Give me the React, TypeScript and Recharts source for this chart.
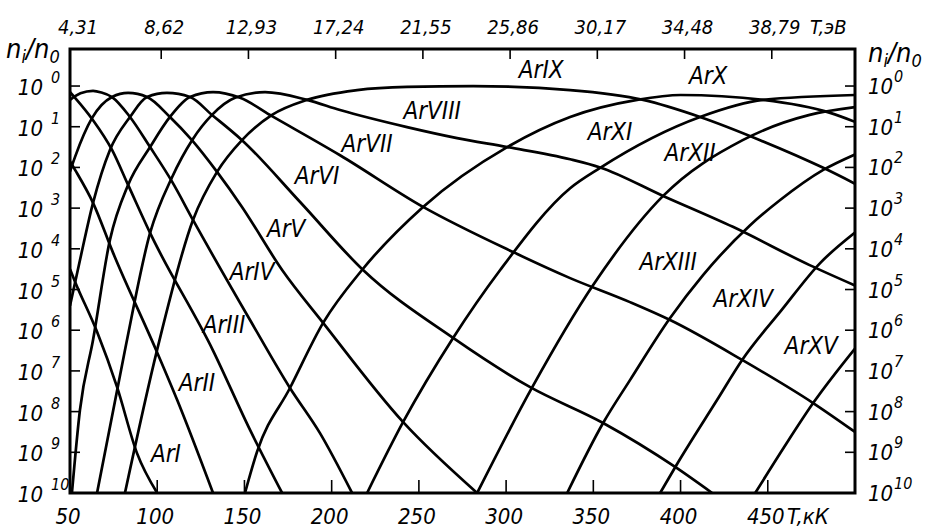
import React from 'react';
import { LineChart, Line, XAxis, YAxis, ReferenceArea, ReferenceDot } from 'recharts';

// log10(n_i/n_0) against T, kK
const AR_I = [[50, -4.5], [53, -4.82], [65.5, -6.04], [77, -7.4], [88.4, -9.02], [100, -10]];
const AR_II = [[50, -1.85], [52.9, -2.06], [63.2, -2.87], [74.7, -4.1], [99.9, -6.54], [111.4, -7.71], [132, -10]];
const AR_III = [[50, -0.15], [52.9, -0.29], [63.2, -0.84], [74.1, -1.57], [83.3, -2.43], [95.9, -3.61], [132, -6.5], [153.2, -8.45], [171.6, -10]];
const AR_IV = [[50, -0.34], [56, -0.18], [63.2, -0.12], [68, -0.16], [74.1, -0.27], [84.4, -0.76], [95.9, -1.5], [108.5, -2.35], [120.5, -3.29], [153.2, -5.75], [176.1, -7.42], [193.3, -8.53], [211.7, -10]];
const AR_V = [[50, -2.1], [52.9, -1.74], [62.6, -0.79], [74.1, -0.27], [83.3, -0.17], [94.2, -0.27], [107.3, -0.76], [119.9, -1.33], [134.3, -2.11], [148.6, -2.97], [171.6, -4.52], [195.1, -5.82], [241, -8.26], [283.4, -10]];
const AR_VI = [[50, -5.4], [55.7, -4.28], [63.2, -2.87], [72.9, -1.57], [84.4, -0.76], [94.2, -0.27], [105.6, -0.17], [118.8, -0.27], [131.4, -0.71], [148.6, -1.33], [181.9, -2.85], [218, -4.52], [269.6, -6.19], [313.8, -7.4], [355.6, -8.28], [396.9, -9.36], [418.1, -10]];
const AR_VII = [[51.1, -10], [55.7, -7.96], [63.2, -6.24], [72.9, -3.78], [83.3, -2.43], [95.9, -1.5], [107.3, -0.76], [118.8, -0.27], [132, -0.15], [147.5, -0.29], [165.8, -0.74], [204.8, -1.7], [252.4, -2.97], [304, -4.08], [336.7, -4.72], [371, -5.31], [394, -5.75], [435.3, -6.73], [476, -7.79], [500, -8.5]];
const AR_VIII = [[65.5, -10], [81.5, -6.49], [95.9, -3.61], [108.5, -2.24], [120, -1.33], [131.4, -0.71], [144.6, -0.29], [161.8, -0.15], [185.9, -0.34], [204.8, -0.59], [243.2, -1.01], [271.9, -1.28], [300.6, -1.5], [336.7, -1.8], [353.9, -2.0], [390, -2.7], [430, -3.46], [474, -4.4], [500, -4.9]];
const AR_IX = [[81.5, -10], [99.9, -6.49], [120.5, -3.29], [134.3, -2.11], [148.6, -1.33], [165.8, -0.71], [185.9, -0.34], [214.6, -0.1], [243.2, -0.02], [281.1, 0], [336.7, -0.1], [378.6, -0.34], [411.2, -0.76], [445.6, -1.33], [481.8, -2.01], [500, -2.4]];
const AR_X = [[150.3, -10], [157.2, -8.99], [176.1, -7.42], [195.1, -5.82], [217.4, -4.52], [252.4, -2.97], [300.6, -1.5], [336.7, -0.76], [375.1, -0.34], [400, -0.22], [447.4, -0.34], [485.8, -0.66], [500, -0.88]];
const AR_XI = [[220.3, -10], [240.9, -8.26], [269.6, -6.19], [296.6, -4.52], [336.7, -2.51], [353.9, -2.01], [411.2, -0.76], [447.4, -0.34], [500, -0.22]];
const AR_XII = [[283.4, -10], [315, -7.4], [349.9, -4.89], [390, -2.7], [435.6, -1.33], [474, -0.71], [500, -0.52]];
const AR_XIII = [[335, -10], [355.6, -8.28], [371.1, -7.22], [394, -5.7], [413, -4.64], [439.9, -3.42], [457.1, -2.8], [481.8, -2.06], [500, -1.68]];
const AR_XIV = [[388.3, -10], [397, -9.36], [421, -7.71], [435.3, -6.73], [458, -5.5], [480, -4.35], [500, -3.6]];
const AR_XV = [[442.8, -10], [459.4, -8.87], [476, -7.79], [500, -6.45]];

const ION_NAMES = ['ArI', 'ArII', 'ArIII', 'ArIV', 'ArV', 'ArVI', 'ArVII', 'ArVIII', 'ArIX', 'ArX', 'ArXI', 'ArXII', 'ArXIII', 'ArXIV', 'ArXV'];
const ION_CURVES = [AR_I, AR_II, AR_III, AR_IV, AR_V, AR_VI, AR_VII, AR_VIII, AR_IX, AR_X, AR_XI, AR_XII, AR_XIII, AR_XIV, AR_XV];
// where each name is written, [T, log10]
const LABEL_T = [105, 122.8, 138.3, 154.4, 173.9, 191.6, 220.3, 257.6, 320.1, 415.8, 359.6, 405.5, 392.9, 435.9, 474.9];
const LABEL_E = [-9.04, -7.3, -5.87, -4.57, -3.51, -2.21, -1.43, -0.61, 0.39, 0.25, -1.13, -1.65, -4.32, -5.23, -6.39];

const T_TICKS = [50, 100, 150, 200, 250, 300, 350, 400, 450];
const EV_LABELS = ['4,31', '8,62', '12,93', '17,24', '21,55', '25,86', '30,17', '34,48', '38,79'];
const Y_TICKS = [0, -1, -2, -3, -4, -5, -6, -7, -8, -9, -10];

const W = 941;
const H = 529;
// axes take 1px each (a 0-size axis is not drawn), so margins are 1px less
const M = { top: 49, right: 85, bottom: 35, left: 69 };
const TOP = 49;
const BOTTOM = 493;
const LEFT = 70;
const RIGHT = 855;
const FONT = "'DejaVu Sans Condensed', 'Liberation Sans Narrow', 'DejaVu Sans', sans-serif";
const txt = { fontFamily: FONT, fontStyle: 'italic' as const, fill: '#000' };

// one tick draws both the kK label below and the eV label above
const TTick = (p: any) => {
  const v = p.payload.value;
  const ev = EV_LABELS[T_TICKS.indexOf(v)];
  return (
    <g>
      <text x={p.x - 2} y={BOTTOM + 31} textAnchor="middle" fontSize={22} {...txt}>{v}</text>
      {v > 50 && <text x={p.x + 7} y={TOP - 15} textAnchor="middle" fontSize={20} {...txt}>{ev}</text>}
      {v > 50 && <line x1={p.x} x2={p.x} y1={BOTTOM} y2={BOTTOM - 13} stroke="#000" strokeWidth={1.6} />}
      {v > 50 && <line x1={p.x + 4} x2={p.x + 4} y1={TOP} y2={TOP + 10} stroke="#000" strokeWidth={1.6} />}
    </g>
  );
};

const LeftTick = (p: any) => {
  const v = p.payload.value;
  return (
    <g>
      <text x={43} y={p.y + 9} textAnchor="end" fontSize={22} {...txt}>10</text>
      <text x={51} y={p.y - 3} fontSize={16} {...txt}>{-v}</text>
      {v > -10 && <line x1={LEFT} x2={LEFT + 10} y1={p.y} y2={p.y} stroke="#000" strokeWidth={1.6} />}
    </g>
  );
};

const RightTick = (p: any) => {
  const v = p.payload.value;
  return (
    <g>
      <text x={868} y={p.y + 8} fontSize={22} {...txt}>10</text>
      <text x={894} y={p.y - 4} fontSize={16} {...txt}>{-v}</text>
      {v > -10 && <line x1={RIGHT - 10} x2={RIGHT} y1={p.y} y2={p.y} stroke="#000" strokeWidth={1.6} />}
    </g>
  );
};

const Ratio = ({ x, y }: { x: number; y: number }) => (
  <text x={x} y={y} fontSize={27} {...txt}>
    n<tspan dy={5} fontSize={18}>i</tspan>
    <tspan dy={-5}>/n</tspan>
    <tspan dy={5} fontSize={18}>0</tspan>
  </text>
);

export default function App() {
  return (
    <div style={{ position: 'absolute', left: 0, top: 0, width: W, height: H, background: '#fff' }}>
      <LineChart width={W} height={H} margin={M}>
        <XAxis xAxisId="b" type="number" dataKey="t" domain={[50, 500]} ticks={T_TICKS} interval={0}
          height={1} axisLine={false} tickLine={false} tick={TTick} allowDataOverflow />
        <YAxis yAxisId="l" type="number" domain={[-10, 0.91]} ticks={Y_TICKS} interval={0}
          width={1} axisLine={false} tickLine={false} tick={LeftTick} allowDataOverflow />
        <YAxis yAxisId="r" orientation="right" type="number" domain={[-10, 0.91]} ticks={Y_TICKS} interval={0}
          width={1} axisLine={false} tickLine={false} tick={RightTick} allowDataOverflow />
        {ION_CURVES.map((pts, i) => (
          <Line key={ION_NAMES[i]} xAxisId="b" yAxisId="l" data={pts.map(([t, e]) => ({ t, e }))} dataKey="e"
            type="monotone" stroke="#000" strokeWidth={2.7} dot={false} isAnimationActive={false} />
        ))}
        <ReferenceArea xAxisId="b" yAxisId="l" x1={50} x2={500} y1={-10} y2={0.91}
          fill="none" fillOpacity={0} stroke="#000" strokeWidth={3} ifOverflow="visible" />
        {ION_NAMES.map((name, i) => (
          <ReferenceDot key={'l' + name} xAxisId="b" yAxisId="l" x={LABEL_T[i]} y={LABEL_E[i]} r={0}
            fill="none" stroke="none" ifOverflow="visible"
            label={(p: any) => (
              <text x={p.viewBox.x} y={p.viewBox.y} textAnchor="middle" dominantBaseline="central" fontSize={24} {...txt}>{name}</text>
            )} />
        ))}
        <text x={78} y={TOP - 15} textAnchor="middle" fontSize={20} {...txt}>{EV_LABELS[0]}</text>
        <text x={787} y={BOTTOM + 31} fontSize={22} {...txt}>T,кК</text>
        <text x={810} y={TOP - 15} fontSize={20} {...txt}>T,эВ</text>
        <Ratio x={6} y={58} />
        <Ratio x={868} y={62} />
      </LineChart>
    </div>
  );
}
